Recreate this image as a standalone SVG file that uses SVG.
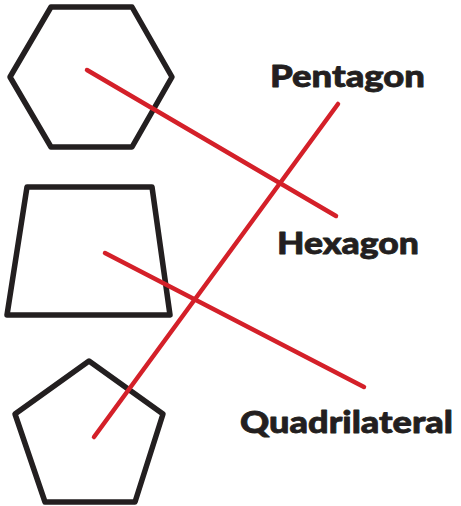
<svg xmlns="http://www.w3.org/2000/svg" width="461" height="506" viewBox="0 0 461 506">
<style>
.shape{fill:none;stroke:#231f20;stroke-width:5.5;stroke-linejoin:round}
.line{stroke:#d42029;stroke-width:4.5;stroke-linecap:round;fill:none}
.label{font-family:Lato,"Open Sans","Liberation Sans",sans-serif;font-weight:900;font-size:31px;fill:#231f20;stroke:#231f20;stroke-width:0.8;stroke-linejoin:round}
</style>
<rect width="461" height="506" fill="#fff"/>
<g id="hexagon"><polygon class="shape" points="51,7 132,7 172,77 132,147 51,147 10,77"/></g>
<g id="quadrilateral"><polygon class="shape" points="27,187 152,187 170,315 7,315"/></g>
<g id="pentagon"><polygon class="shape" points="89,361 163,414 135,502 45,502 15,414"/></g>
<g id="connectors">
<line class="line" x1="87" y1="70" x2="336" y2="216"/>
<line class="line" x1="94" y1="437" x2="338" y2="104"/>
<line class="line" x1="105" y1="253" x2="364" y2="387"/>
</g>
<g id="label-pentagon"><text class="label" x="270" y="87" textLength="155" lengthAdjust="spacingAndGlyphs">Pentagon</text></g>
<g id="label-hexagon"><text class="label" x="277" y="254" textLength="142" lengthAdjust="spacingAndGlyphs">Hexagon</text></g>
<g id="label-quadrilateral"><text class="label" x="240" y="433" textLength="213" lengthAdjust="spacingAndGlyphs">Quadrilateral</text></g>
</svg>
